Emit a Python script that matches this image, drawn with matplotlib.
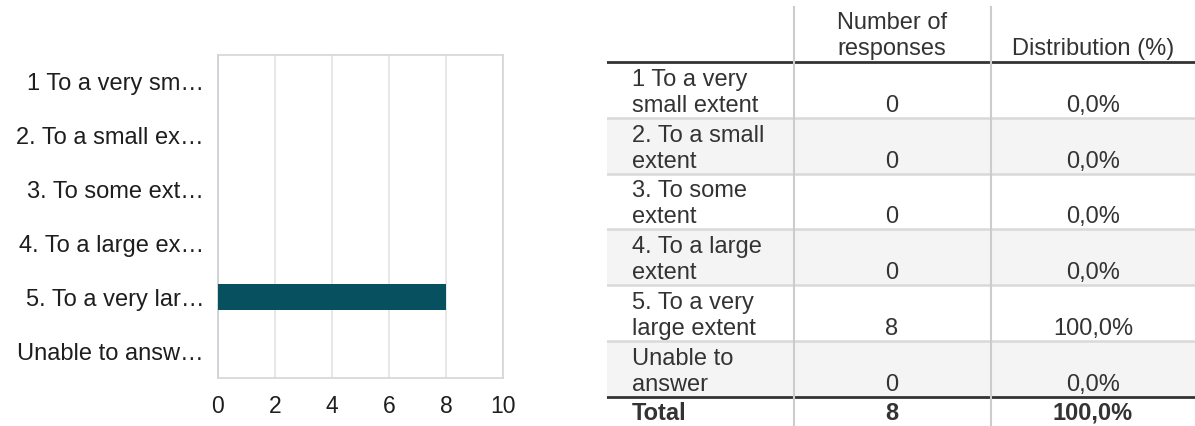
import matplotlib.pyplot as plt
import numpy as np

# data
chart_labels = ["1 To a very sm\u2026", "2. To a small ex\u2026", "3. To some ext\u2026",
                "4. To a large ex\u2026", "5. To a very lar\u2026", "Unable to answ\u2026"]
table_labels = ["1 To a very\nsmall extent", "2. To a small\nextent", "3. To some\nextent",
                "4. To a large\nextent", "5. To a very\nlarge extent", "Unable to\nanswer"]
counts = [0, 0, 0, 0, 8, 0]
x_ticks = [0, 2, 4, 6, 8, 10]

plt.rcParams["font.family"] = ["Liberation Sans", "DejaVu Sans"]

W, H = 1195, 426
fig = plt.figure(figsize=(W / 100, H / 100), dpi=100)

# bar chart on the left
ax = fig.add_axes([218 / W, 48 / H, 285 / W, 323 / H])
y = np.arange(len(counts))
ax.barh(y, counts, height=0.48, color="#07505f", zorder=3)
ax.set_ylim(len(counts) - 0.5, -0.5)
ax.set_xlim(0, 10)
ax.set_xticks(x_ticks)
ax.set_yticks(y)
ax.set_yticklabels(chart_labels)
ax.tick_params(axis="y", length=0, pad=10, labelsize=17, labelcolor="#1e1e1e")
ax.tick_params(axis="x", length=0, pad=12, labelsize=16.5, labelcolor="#1e1e1e")
ax.grid(axis="x", color="#e3e3e3", linewidth=1.2, zorder=0)
for side in ax.spines:
    ax.spines[side].set_color("#d6d6d6")
    ax.spines[side].set_linewidth(1.2)
ax.spines["left"].set_color("#c9cdd6")

# table on the right
tx = 607
tw = W - tx
t = fig.add_axes([tx / W, 0, tw / W, 1])
t.set_xlim(0, tw)
t.set_ylim(H, 0)
t.axis("off")

header_bottom = 62
row_h = 55.8
col2 = 892 - tx
col3 = 1093 - tx
text_x = 632 - tx
fs = 17
tc = "#333333"
total = sum(counts)

# header
t.text(col2, header_bottom - 33, "Number of", ha="center", va="baseline", fontsize=fs, color=tc)
t.text(col2, header_bottom - 7, "responses", ha="center", va="baseline", fontsize=fs, color=tc)
t.text(col3, header_bottom - 7, "Distribution (%)", ha="center", va="baseline", fontsize=fs, color=tc)

for i, (lab, c) in enumerate(zip(table_labels, counts)):
    top = header_bottom + i * row_h
    bot = top + row_h
    if i % 2 == 1:
        t.fill_between([0, tw], top, bot, color="#f4f4f4", linewidth=0, zorder=0)
    if i > 0:
        t.plot([0, tw], [top, top], color="#d9d9d9", linewidth=1.8, zorder=1)
    l1, l2 = lab.split("\n")
    t.text(text_x, bot - 32, l1, ha="left", va="baseline", fontsize=fs, color=tc)
    t.text(text_x, bot - 6, l2, ha="left", va="baseline", fontsize=fs, color=tc)
    t.text(col2, bot - 6, str(c), ha="center", va="baseline", fontsize=fs, color=tc)
    pct = f"{100 * c / total:.1f}".replace(".", ",") + "%"
    t.text(col3, bot - 6, pct, ha="center", va="baseline", fontsize=fs, color=tc)

total_top = header_bottom + len(counts) * row_h
t.plot([0, tw], [header_bottom, header_bottom], color="#333333", linewidth=2, zorder=2)
t.plot([0, tw], [total_top, total_top], color="#333333", linewidth=2, zorder=2)
t.text(text_x, total_top + 23, "Total", ha="left", va="baseline", fontsize=fs, color=tc, fontweight="bold")
t.text(col2, total_top + 23, str(total), ha="center", va="baseline", fontsize=fs, color=tc, fontweight="bold")
t.text(col3, total_top + 23, "100,0%", ha="center", va="baseline", fontsize=fs, color=tc, fontweight="bold")

for vx in [794 - tx, 991 - tx]:
    t.plot([vx, vx], [7, H], color="#cccccc", linewidth=1.5, zorder=3)

fig.savefig("out.png", dpi=100)
